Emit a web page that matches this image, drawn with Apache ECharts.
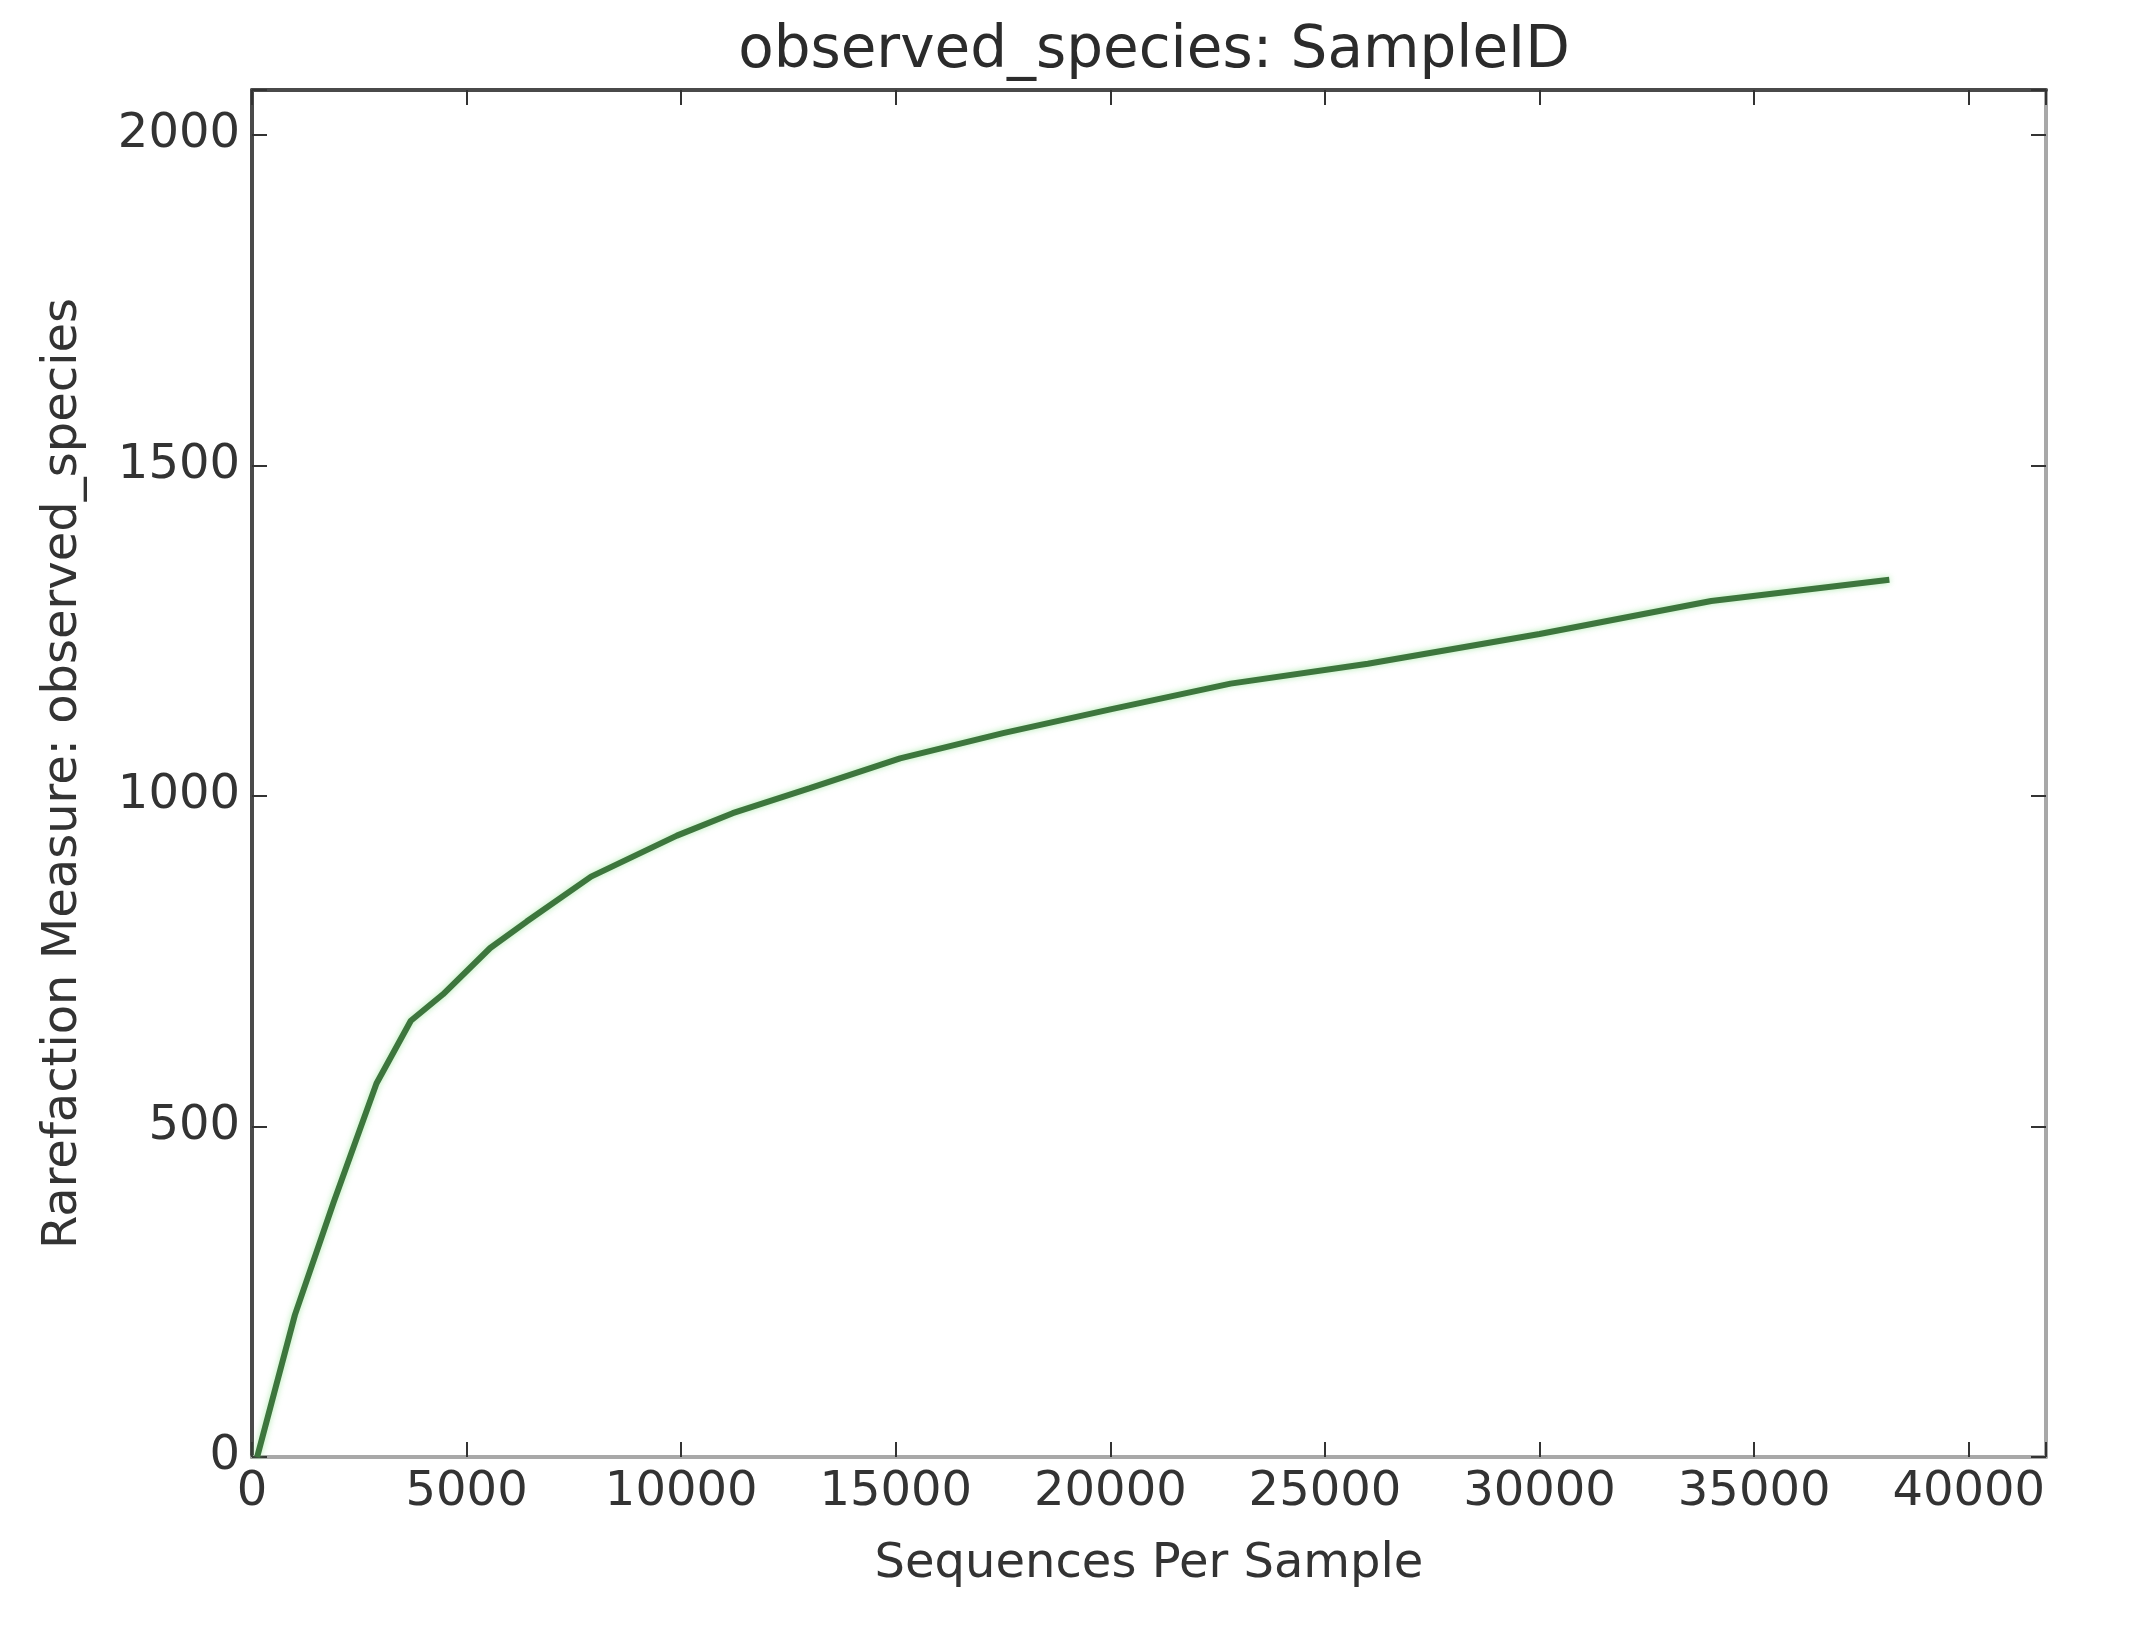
<!DOCTYPE html>
<html>
<head>
<meta charset="utf-8">
<script src="https://cdn.jsdelivr.net/npm/echarts@6/dist/echarts.min.js"></script>
<style>
    html, body { margin: 0; padding: 0; background: #fff; }
    #main { width: 2139px; height: 1632px; }
</style>
</head>
<body>
<div id="main"></div>
<script>
    // rarefaction depths (sequences per sample) and observed species
    var depths = [120, 1000, 1900, 2900, 3700, 4450, 5550, 6400, 7900, 9900, 11200, 13000, 15100, 17500, 20000, 22800, 26000, 30000, 34000, 38150];
    var observed = [0, 215, 385, 565, 660, 700, 770, 810, 878, 940, 974, 1012, 1057, 1095, 1131, 1170, 1200, 1245, 1295, 1327];
    var xTicks = [0, 5000, 10000, 15000, 20000, 25000, 30000, 35000, 40000];
    var yTicks = [0, 500, 1000, 1500, 2000];

    var font = 'DejaVu Sans';
    var chart = echarts.init(document.getElementById('main'));

    var points = [];
    for (var i = 0; i < depths.length; i++) {
        points.push([depths[i], observed[i]]);
    }

    function tickLabel(list) {
        return function (v) {
            return list.indexOf(v) >= 0 ? String(v) : '';
        };
    }

    var dark = '#4a4a4a', light = '#a8a8a8';
    var tick = { inside: true, length: 15, lineStyle: { color: '#333', width: 2 } };

    var option = {
        backgroundColor: '#fff',
        animation: false,
        title: {
            text: 'observed_species: SampleID',
            left: 1149,
            top: 18,
            textAlign: 'center',
            textStyle: { fontFamily: font, fontSize: 58, fontWeight: 'normal', color: '#2b2b2b' }
        },
        grid: { left: 252, right: 93, top: 90, bottom: 175 },
        xAxis: [{
            type: 'value', position: 'bottom',
            min: 0, max: 41800, interval: 5000,
            name: 'Sequences Per Sample', nameLocation: 'middle', nameGap: 84,
            nameTextStyle: { fontFamily: font, fontSize: 48, color: '#333' },
            axisLine: { onZero: false, lineStyle: { color: light, width: 4 } },
            axisTick: tick,
            axisLabel: { fontFamily: font, fontSize: 48, color: '#333', margin: 12, formatter: tickLabel(xTicks) },
            splitLine: { show: false }
        }, {
            type: 'value', position: 'top',
            min: 0, max: 41800, interval: 5000,
            axisLine: { onZero: false, lineStyle: { color: dark, width: 4 } },
            axisTick: tick,
            axisLabel: { show: false },
            splitLine: { show: false }
        }],
        yAxis: [{
            type: 'value', position: 'left',
            min: 0, max: 2068, interval: 500,
            name: 'Rarefaction Measure: observed_species', nameLocation: 'middle', nameGap: 164,
            nameRotate: 90,
            nameTextStyle: { fontFamily: font, fontSize: 48, color: '#333' },
            axisLine: { onZero: false, lineStyle: { color: dark, width: 4 } },
            axisTick: tick,
            axisLabel: { fontFamily: font, fontSize: 48, color: '#333', margin: 12, formatter: tickLabel(yTicks) },
            splitLine: { show: false }
        }, {
            type: 'value', position: 'right',
            min: 0, max: 2068, interval: 500,
            axisLine: { onZero: false, lineStyle: { color: light, width: 4 } },
            axisTick: tick,
            axisLabel: { show: false },
            splitLine: { show: false }
        }],
        series: [{
            name: 'SampleID',
            type: 'line',
            xAxisIndex: 0,
            yAxisIndex: 0,
            data: points,
            showSymbol: false,
            lineStyle: {
                color: '#3d763d', width: 6,
                shadowColor: 'rgba(120,220,120,0.6)', shadowBlur: 6
            }
        }]
    };

    chart.setOption(option);
</script>
</body>
</html>
